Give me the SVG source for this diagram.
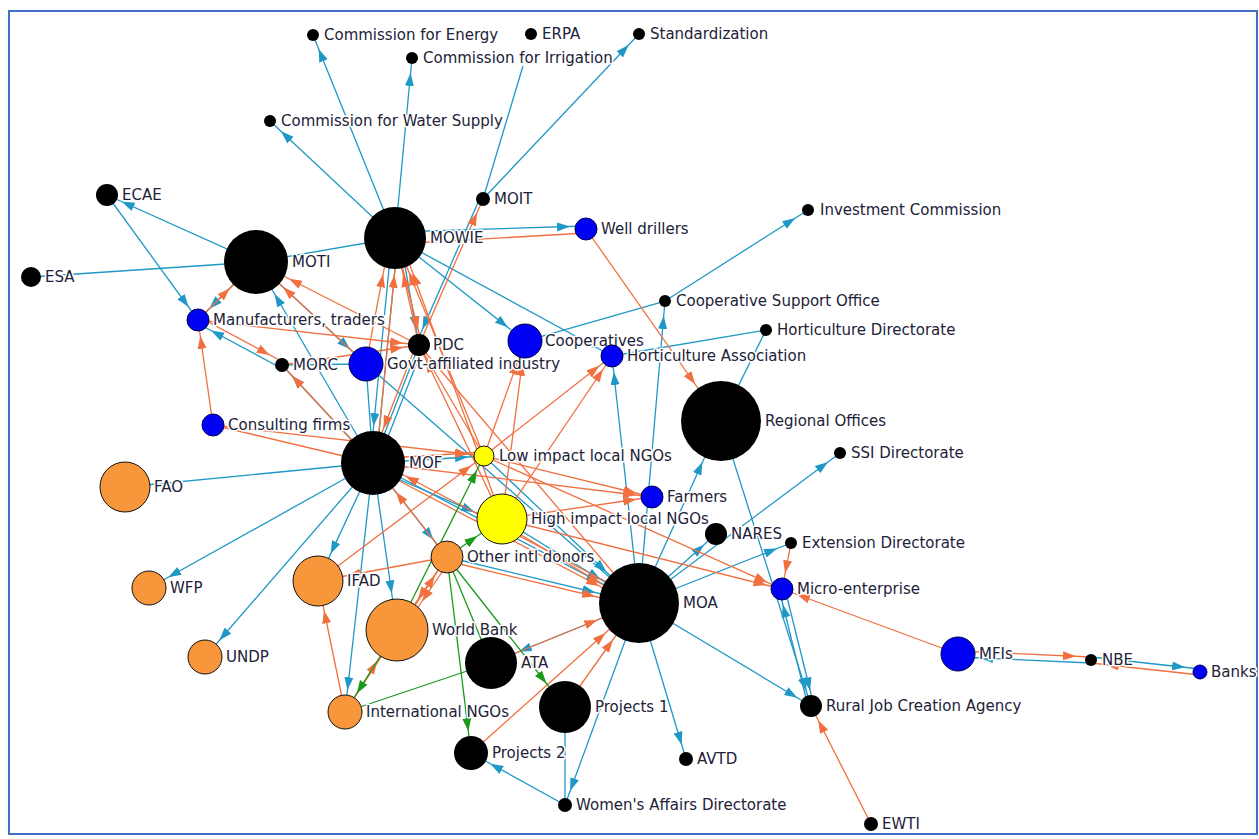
<svg xmlns="http://www.w3.org/2000/svg" width="1259" height="839" viewBox="0 0 1259 839">
<style>
.b{stroke:#1f98c6;stroke-width:1.3;fill:none}
.o{stroke:#f07040;stroke-width:1.3;fill:none}
.g{stroke:#1a9a1a;stroke-width:1.3;fill:none}
.k{fill:#000}
.bl{fill:#0000f2;stroke:#000050;stroke-width:1}
.or{fill:#f7963a;stroke:#111;stroke-width:1}
.ye{fill:#ffff00;stroke:#111;stroke-width:1}
text{font-family:"DejaVu Sans",Verdana,sans-serif;font-size:15px;fill:#222238;stroke:#fff;stroke-width:3;paint-order:stroke;stroke-linejoin:round}
</style>
<defs>
<marker id="b7" viewBox="0 -5 14 10" markerWidth="14" markerHeight="10" markerUnits="userSpaceOnUse" refX="28" refY="0" orient="auto"><path d="M0,-4.5L13,0L0,4.5z" fill="#1f98c6"/></marker>
<marker id="b11" viewBox="0 -5 14 10" markerWidth="14" markerHeight="10" markerUnits="userSpaceOnUse" refX="29" refY="0" orient="auto"><path d="M0,-4.5L13,0L0,4.5z" fill="#1f98c6"/></marker>
<marker id="b17" viewBox="0 -5 14 10" markerWidth="14" markerHeight="10" markerUnits="userSpaceOnUse" refX="35" refY="0" orient="auto"><path d="M0,-4.5L13,0L0,4.5z" fill="#1f98c6"/></marker>
<marker id="b25" viewBox="0 -5 14 10" markerWidth="14" markerHeight="10" markerUnits="userSpaceOnUse" refX="43" refY="0" orient="auto"><path d="M0,-4.5L13,0L0,4.5z" fill="#1f98c6"/></marker>
<marker id="b32" viewBox="0 -5 14 10" markerWidth="14" markerHeight="10" markerUnits="userSpaceOnUse" refX="50" refY="0" orient="auto"><path d="M0,-4.5L13,0L0,4.5z" fill="#1f98c6"/></marker>
<marker id="b40" viewBox="0 -5 14 10" markerWidth="14" markerHeight="10" markerUnits="userSpaceOnUse" refX="58" refY="0" orient="auto"><path d="M0,-4.5L13,0L0,4.5z" fill="#1f98c6"/></marker>
<marker id="o7" viewBox="0 -5 14 10" markerWidth="14" markerHeight="10" markerUnits="userSpaceOnUse" refX="28" refY="0" orient="auto"><path d="M0,-4.5L13,0L0,4.5z" fill="#f07040"/></marker>
<marker id="o11" viewBox="0 -5 14 10" markerWidth="14" markerHeight="10" markerUnits="userSpaceOnUse" refX="29" refY="0" orient="auto"><path d="M0,-4.5L13,0L0,4.5z" fill="#f07040"/></marker>
<marker id="o17" viewBox="0 -5 14 10" markerWidth="14" markerHeight="10" markerUnits="userSpaceOnUse" refX="35" refY="0" orient="auto"><path d="M0,-4.5L13,0L0,4.5z" fill="#f07040"/></marker>
<marker id="o25" viewBox="0 -5 14 10" markerWidth="14" markerHeight="10" markerUnits="userSpaceOnUse" refX="43" refY="0" orient="auto"><path d="M0,-4.5L13,0L0,4.5z" fill="#f07040"/></marker>
<marker id="o32" viewBox="0 -5 14 10" markerWidth="14" markerHeight="10" markerUnits="userSpaceOnUse" refX="50" refY="0" orient="auto"><path d="M0,-4.5L13,0L0,4.5z" fill="#f07040"/></marker>
<marker id="o40" viewBox="0 -5 14 10" markerWidth="14" markerHeight="10" markerUnits="userSpaceOnUse" refX="58" refY="0" orient="auto"><path d="M0,-4.5L13,0L0,4.5z" fill="#f07040"/></marker>
<marker id="g11" viewBox="0 -5 14 10" markerWidth="14" markerHeight="10" markerUnits="userSpaceOnUse" refX="29" refY="0" orient="auto"><path d="M0,-4.5L13,0L0,4.5z" fill="#1a9a1a"/></marker>
<marker id="g17" viewBox="0 -5 14 10" markerWidth="14" markerHeight="10" markerUnits="userSpaceOnUse" refX="35" refY="0" orient="auto"><path d="M0,-4.5L13,0L0,4.5z" fill="#1a9a1a"/></marker>
<marker id="g25" viewBox="0 -5 14 10" markerWidth="14" markerHeight="10" markerUnits="userSpaceOnUse" refX="43" refY="0" orient="auto"><path d="M0,-4.5L13,0L0,4.5z" fill="#1a9a1a"/></marker>
</defs>
<rect x="0" y="0" width="1259" height="839" fill="#fff"/>
<rect x="9" y="11" width="1248" height="823" fill="#fff" stroke="#4070c8" stroke-width="2"/>
<g id="connectors">
<line class="b" x1="395" y1="238" x2="313" y2="35" marker-end="url(#b7)"/>
<line class="b" x1="395" y1="238" x2="412" y2="58" marker-end="url(#b7)"/>
<line class="b" x1="395" y1="238" x2="270" y2="121" marker-end="url(#b7)"/>
<line class="b" x1="483" y1="199" x2="523" y2="66"/>
<line class="b" x1="483" y1="199" x2="639" y2="34" marker-end="url(#b7)"/>
<line class="b" x1="395" y1="232" x2="586" y2="226" marker-end="url(#b11)"/>
<line class="b" x1="665" y1="301" x2="808" y2="210" marker-end="url(#b7)"/>
<line class="b" x1="525" y1="341" x2="665" y2="301"/>
<line class="b" x1="639" y1="603" x2="665" y2="301" marker-end="url(#b7)"/>
<line class="b" x1="766" y1="330" x2="612" y2="356"/>
<line class="b" x1="766" y1="330" x2="721" y2="421"/>
<line class="b" x1="395" y1="238" x2="612" y2="356" marker-end="url(#b11)"/>
<line class="b" x1="395" y1="238" x2="525" y2="341" marker-end="url(#b17)"/>
<line class="b" x1="639" y1="603" x2="612" y2="356" marker-end="url(#b11)"/>
<line class="b" x1="639" y1="603" x2="721" y2="421" marker-end="url(#b40)"/>
<line class="b" x1="721" y1="421" x2="811" y2="706" marker-end="url(#b11)"/>
<line class="b" x1="785" y1="589" x2="814" y2="706" marker-end="url(#b11)"/>
<line class="b" x1="808" y1="706" x2="779" y2="589" marker-end="url(#b11)"/>
<line class="b" x1="639" y1="603" x2="811" y2="706" marker-end="url(#b11)"/>
<line class="b" x1="639" y1="603" x2="791" y2="543" marker-end="url(#b7)"/>
<line class="b" x1="639" y1="603" x2="840" y2="453" marker-end="url(#b7)"/>
<line class="b" x1="639" y1="603" x2="716" y2="534" marker-end="url(#b11)"/>
<line class="b" x1="639" y1="603" x2="491" y2="663" marker-end="url(#b25)"/>
<line class="b" x1="639" y1="603" x2="686" y2="759" marker-end="url(#b7)"/>
<line class="b" x1="639" y1="603" x2="565" y2="805" marker-end="url(#b7)"/>
<line class="b" x1="565" y1="707" x2="565" y2="805"/>
<line class="b" x1="565" y1="805" x2="471" y2="753" marker-end="url(#b17)"/>
<line class="b" x1="373" y1="463" x2="639" y2="603" marker-end="url(#b40)"/>
<line class="b" x1="373" y1="468" x2="502" y2="524" marker-end="url(#b25)"/>
<line class="b" x1="373" y1="463" x2="484" y2="456" marker-end="url(#b11)"/>
<line class="b" x1="373" y1="463" x2="125" y2="487"/>
<line class="b" x1="373" y1="463" x2="149" y2="588" marker-end="url(#b17)"/>
<line class="b" x1="373" y1="463" x2="205" y2="657" marker-end="url(#b17)"/>
<line class="b" x1="373" y1="463" x2="318" y2="581" marker-end="url(#b25)"/>
<line class="b" x1="373" y1="463" x2="345" y2="712" marker-end="url(#b17)"/>
<line class="b" x1="373" y1="463" x2="397" y2="630" marker-end="url(#b32)"/>
<line class="b" x1="373" y1="463" x2="447" y2="557" marker-end="url(#b17)"/>
<line class="b" x1="373" y1="463" x2="282" y2="365" marker-end="url(#b7)"/>
<line class="b" x1="373" y1="463" x2="256" y2="262" marker-end="url(#b32)"/>
<line class="b" x1="392" y1="238" x2="370" y2="463" marker-end="url(#b32)"/>
<line class="b" x1="398" y1="238" x2="376" y2="463"/>
<line class="b" x1="256" y1="262" x2="198" y2="320" marker-end="url(#b11)"/>
<line class="b" x1="107" y1="195" x2="198" y2="320" marker-end="url(#b11)"/>
<line class="b" x1="256" y1="262" x2="107" y2="195" marker-end="url(#b11)"/>
<line class="b" x1="31" y1="277" x2="256" y2="262"/>
<line class="b" x1="395" y1="238" x2="256" y2="262"/>
<line class="b" x1="281" y1="368" x2="197" y2="323" marker-end="url(#b11)"/>
<line class="b" x1="256" y1="262" x2="366" y2="364" marker-end="url(#b17)"/>
<line class="b" x1="282" y1="365" x2="366" y2="364"/>
<line class="b" x1="366" y1="364" x2="373" y2="463"/>
<line class="b" x1="419" y1="345" x2="373" y2="463"/>
<line class="b" x1="423" y1="347" x2="377" y2="465"/>
<line class="b" x1="400" y1="238" x2="419" y2="345" marker-end="url(#b11)"/>
<line class="b" x1="480" y1="198" x2="416" y2="344" marker-end="url(#b11)"/>
<line class="b" x1="502" y1="519" x2="639" y2="603" marker-end="url(#b40)"/>
<line class="b" x1="447" y1="557" x2="639" y2="603" marker-end="url(#b40)"/>
<line class="b" x1="484" y1="456" x2="639" y2="603" marker-end="url(#b40)"/>
<line class="b" x1="1091" y1="663" x2="958" y2="657" marker-end="url(#b17)"/>
<line class="b" x1="1091" y1="657" x2="1200" y2="669" marker-end="url(#b7)"/>
<line class="b" x1="366" y1="364" x2="639" y2="603"/>
<line class="o" x1="586" y1="233" x2="395" y2="244"/>
<line class="o" x1="586" y1="229" x2="721" y2="421" marker-end="url(#o40)"/>
<line class="o" x1="419" y1="345" x2="483" y2="199" marker-end="url(#o7)"/>
<line class="o" x1="419" y1="345" x2="395" y2="238" marker-end="url(#o32)"/>
<line class="o" x1="366" y1="364" x2="390" y2="238" marker-end="url(#o32)"/>
<line class="o" x1="376" y1="463" x2="398" y2="238" marker-end="url(#o32)"/>
<line class="o" x1="484" y1="456" x2="395" y2="238" marker-end="url(#o32)"/>
<line class="o" x1="502" y1="519" x2="400" y2="238" marker-end="url(#o32)"/>
<line class="o" x1="395" y1="238" x2="422" y2="345" marker-end="url(#o11)"/>
<line class="o" x1="419" y1="345" x2="256" y2="262" marker-end="url(#o32)"/>
<line class="o" x1="366" y1="364" x2="256" y2="262" marker-end="url(#o32)"/>
<line class="o" x1="198" y1="320" x2="256" y2="262" marker-end="url(#o32)"/>
<line class="o" x1="199" y1="317" x2="283" y2="362" marker-end="url(#o7)"/>
<line class="o" x1="213" y1="425" x2="198" y2="320" marker-end="url(#o11)"/>
<line class="o" x1="213" y1="425" x2="373" y2="463"/>
<line class="o" x1="213" y1="425" x2="484" y2="456" marker-end="url(#o11)"/>
<line class="o" x1="373" y1="459" x2="484" y2="452" marker-end="url(#o11)"/>
<line class="o" x1="484" y1="456" x2="525" y2="341" marker-end="url(#o17)"/>
<line class="o" x1="502" y1="519" x2="525" y2="341" marker-end="url(#o17)"/>
<line class="o" x1="484" y1="456" x2="612" y2="356" marker-end="url(#o11)"/>
<line class="o" x1="502" y1="519" x2="612" y2="356" marker-end="url(#o11)"/>
<line class="o" x1="639" y1="603" x2="419" y2="345" marker-end="url(#o11)"/>
<line class="o" x1="502" y1="519" x2="419" y2="345" marker-end="url(#o11)"/>
<line class="o" x1="484" y1="456" x2="419" y2="345" marker-end="url(#o11)"/>
<line class="o" x1="416" y1="345" x2="370" y2="463" marker-end="url(#o32)"/>
<line class="o" x1="373" y1="463" x2="282" y2="365" marker-end="url(#o7)"/>
<line class="o" x1="447" y1="557" x2="373" y2="463" marker-end="url(#o32)"/>
<line class="o" x1="447" y1="557" x2="318" y2="581" marker-end="url(#o25)"/>
<line class="o" x1="447" y1="557" x2="397" y2="630" marker-end="url(#o32)"/>
<line class="o" x1="451" y1="559" x2="401" y2="632" marker-end="url(#o32)"/>
<line class="o" x1="345" y1="712" x2="318" y2="581" marker-end="url(#o25)"/>
<line class="o" x1="345" y1="712" x2="397" y2="630" marker-end="url(#o32)"/>
<line class="o" x1="345" y1="712" x2="447" y2="557" marker-end="url(#o17)"/>
<line class="o" x1="471" y1="753" x2="639" y2="603" marker-end="url(#o40)"/>
<line class="o" x1="491" y1="663" x2="639" y2="603" marker-end="url(#o40)"/>
<line class="o" x1="565" y1="707" x2="639" y2="603" marker-end="url(#o40)"/>
<line class="o" x1="447" y1="561" x2="639" y2="607" marker-end="url(#o40)"/>
<line class="o" x1="502" y1="523" x2="639" y2="607" marker-end="url(#o40)"/>
<line class="o" x1="373" y1="467" x2="639" y2="607" marker-end="url(#o40)"/>
<line class="o" x1="639" y1="599" x2="373" y2="459" marker-end="url(#o32)"/>
<line class="o" x1="484" y1="456" x2="652" y2="497" marker-end="url(#o11)"/>
<line class="o" x1="502" y1="519" x2="652" y2="497" marker-end="url(#o11)"/>
<line class="o" x1="373" y1="463" x2="652" y2="497" marker-end="url(#o11)"/>
<line class="o" x1="484" y1="456" x2="782" y2="589" marker-end="url(#o11)"/>
<line class="o" x1="502" y1="519" x2="782" y2="589" marker-end="url(#o11)"/>
<line class="o" x1="791" y1="543" x2="782" y2="589" marker-end="url(#o11)"/>
<line class="o" x1="958" y1="654" x2="782" y2="589" marker-end="url(#o11)"/>
<line class="o" x1="958" y1="651" x2="1091" y2="657" marker-end="url(#o7)"/>
<line class="o" x1="1200" y1="675" x2="1091" y2="663" marker-end="url(#o7)"/>
<line class="o" x1="871" y1="824" x2="811" y2="706" marker-end="url(#o11)"/>
<line class="o" x1="198" y1="320" x2="419" y2="345" marker-end="url(#o11)"/>
<line class="o" x1="282" y1="365" x2="419" y2="345" marker-end="url(#o11)"/>
<line class="o" x1="318" y1="581" x2="484" y2="456" marker-end="url(#o11)"/>
<line class="g" x1="397" y1="630" x2="484" y2="456" marker-end="url(#g11)"/>
<line class="g" x1="447" y1="557" x2="502" y2="519" marker-end="url(#g25)"/>
<line class="g" x1="447" y1="557" x2="565" y2="707" marker-end="url(#g25)"/>
<line class="g" x1="447" y1="557" x2="471" y2="753" marker-end="url(#g17)"/>
<line class="g" x1="447" y1="557" x2="491" y2="663"/>
<line class="g" x1="397" y1="630" x2="345" y2="712" marker-end="url(#g17)"/>
<line class="g" x1="491" y1="663" x2="345" y2="712"/>
</g>
<g id="n-CE"><circle class="k" cx="313" cy="35" r="6"/><text x="324" y="40">Commission for Energy</text></g>
<g id="n-ERPA"><circle class="k" cx="531" cy="34" r="6"/><text x="542" y="39">ERPA</text></g>
<g id="n-STD"><circle class="k" cx="639" cy="34" r="6"/><text x="650" y="39">Standardization</text></g>
<g id="n-CI"><circle class="k" cx="412" cy="58" r="6"/><text x="423" y="63">Commission for Irrigation</text></g>
<g id="n-CWS"><circle class="k" cx="270" cy="121" r="6"/><text x="281" y="126">Commission for Water Supply</text></g>
<g id="n-MOIT"><circle class="k" cx="483" cy="199" r="7"/><text x="494" y="204">MOIT</text></g>
<g id="n-INV"><circle class="k" cx="808" cy="210" r="6"/><text x="820" y="215">Investment Commission</text></g>
<g id="n-ECAE"><circle class="k" cx="107" cy="195" r="11"/><text x="122" y="200">ECAE</text></g>
<g id="n-MOTI"><circle class="k" cx="256" cy="262" r="32"/><text x="292" y="267">MOTI</text></g>
<g id="n-MOWIE"><circle class="k" cx="395" cy="238" r="31"/><text x="430" y="243">MOWIE</text></g>
<g id="n-ESA"><circle class="k" cx="31" cy="277" r="10"/><text x="45" y="282">ESA</text></g>
<g id="n-WELL"><circle class="bl" cx="586" cy="229" r="11"/><text x="601" y="234">Well drillers</text></g>
<g id="n-CSO"><circle class="k" cx="665" cy="301" r="6"/><text x="676" y="306">Cooperative Support Office</text></g>
<g id="n-HD"><circle class="k" cx="766" cy="330" r="6"/><text x="777" y="335">Horticulture Directorate</text></g>
<g id="n-MANU"><circle class="bl" cx="198" cy="320" r="11"/><text x="213" y="325">Manufacturers, traders</text></g>
<g id="n-MORC"><circle class="k" cx="282" cy="365" r="7"/><text x="293" y="370">MORC</text></g>
<g id="n-GOVT"><circle class="bl" cx="366" cy="364" r="17"/><text x="387" y="369">Govt-affiliated industry</text></g>
<g id="n-PDC"><circle class="k" cx="419" cy="345" r="11"/><text x="433" y="350">PDC</text></g>
<g id="n-COOP"><circle class="bl" cx="525" cy="341" r="17"/><text x="545" y="346">Cooperatives</text></g>
<g id="n-HA"><circle class="bl" cx="612" cy="356" r="11"/><text x="627" y="361">Horticulture Association</text></g>
<g id="n-RO"><circle class="k" cx="721" cy="421" r="40"/><text x="765" y="426">Regional Offices</text></g>
<g id="n-CF"><circle class="bl" cx="213" cy="425" r="11"/><text x="228" y="430">Consulting firms</text></g>
<g id="n-MOF"><circle class="k" cx="373" cy="463" r="32"/><text x="409" y="468">MOF</text></g>
<g id="n-LOW"><circle class="ye" cx="484" cy="456" r="10"/><text x="499" y="461">Low impact local NGOs</text></g>
<g id="n-SSI"><circle class="k" cx="840" cy="453" r="6"/><text x="851" y="458">SSI Directorate</text></g>
<g id="n-FAO"><circle class="or" cx="125" cy="487" r="25"/><text x="154" y="492">FAO</text></g>
<g id="n-FARM"><circle class="bl" cx="652" cy="497" r="11"/><text x="667" y="502">Farmers</text></g>
<g id="n-HIGH"><circle class="ye" cx="502" cy="519" r="25"/><text x="531" y="524">High impact local NGOs</text></g>
<g id="n-NARES"><circle class="k" cx="716" cy="534" r="11"/><text x="731" y="539">NARES</text></g>
<g id="n-EXT"><circle class="k" cx="791" cy="543" r="6"/><text x="802" y="548">Extension Directorate</text></g>
<g id="n-OID"><circle class="or" cx="447" cy="557" r="16"/><text x="467" y="562">Other intl donors</text></g>
<g id="n-WFP"><circle class="or" cx="149" cy="588" r="17"/><text x="170" y="593">WFP</text></g>
<g id="n-IFAD"><circle class="or" cx="318" cy="581" r="25"/><text x="347" y="586">IFAD</text></g>
<g id="n-MOA"><circle class="k" cx="639" cy="603" r="40"/><text x="683" y="608">MOA</text></g>
<g id="n-MICRO"><circle class="bl" cx="782" cy="589" r="11"/><text x="797" y="594">Micro-enterprise</text></g>
<g id="n-WB"><circle class="or" cx="397" cy="630" r="31"/><text x="432" y="635">World Bank</text></g>
<g id="n-UNDP"><circle class="or" cx="205" cy="657" r="17"/><text x="226" y="662">UNDP</text></g>
<g id="n-ATA"><circle class="k" cx="491" cy="663" r="26"/><text x="521" y="668">ATA</text></g>
<g id="n-MFI"><circle class="bl" cx="958" cy="654" r="17"/><text x="979" y="659">MFIs</text></g>
<g id="n-NBE"><circle class="k" cx="1091" cy="660" r="6"/><text x="1102" y="665">NBE</text></g>
<g id="n-BANKS"><circle class="bl" cx="1200" cy="672" r="7"/><text x="1211" y="677">Banks</text></g>
<g id="n-INGO"><circle class="or" cx="345" cy="712" r="17"/><text x="366" y="717">International NGOs</text></g>
<g id="n-P1"><circle class="k" cx="565" cy="707" r="26"/><text x="595" y="712">Projects 1</text></g>
<g id="n-RJCA"><circle class="k" cx="811" cy="706" r="11"/><text x="826" y="711">Rural Job Creation Agency</text></g>
<g id="n-P2"><circle class="k" cx="471" cy="753" r="17"/><text x="492" y="758">Projects 2</text></g>
<g id="n-AVTD"><circle class="k" cx="686" cy="759" r="7"/><text x="697" y="764">AVTD</text></g>
<g id="n-WAD"><circle class="k" cx="565" cy="805" r="7"/><text x="576" y="810">Women's Affairs Directorate</text></g>
<g id="n-EWTI"><circle class="k" cx="871" cy="824" r="7"/><text x="882" y="829">EWTI</text></g>
</svg>
